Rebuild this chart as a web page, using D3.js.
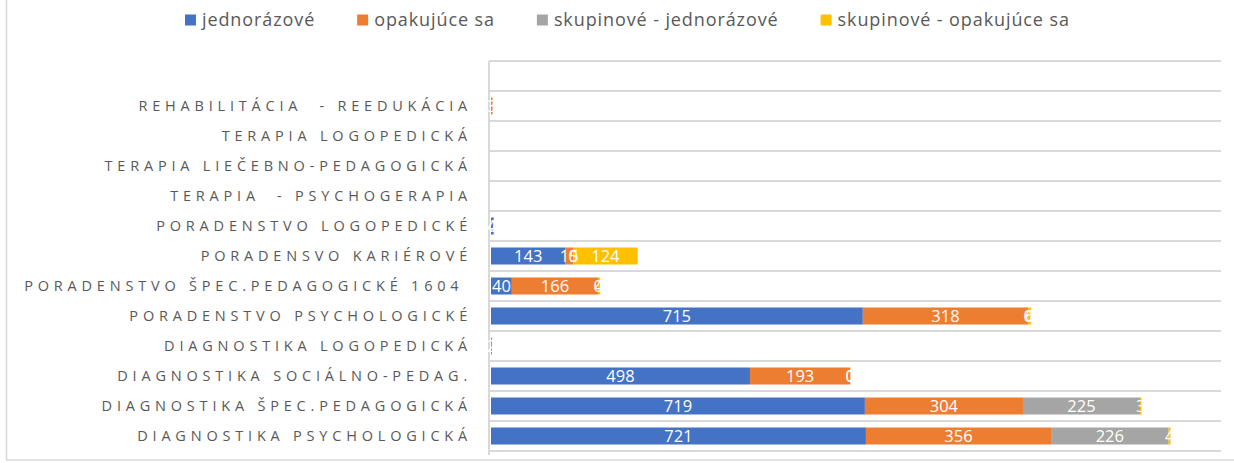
<!DOCTYPE html>
<html>
<head>
<meta charset="utf-8">
<script src="https://cdn.jsdelivr.net/npm/d3@7"></script>
<style>
  body { margin: 0; background: #fff; }
  svg { display: block; }
  .cat { white-space: pre; }
</style>
</head>
<body>
<svg id="chart" width="1234" height="463"></svg>
<script>
// categories from top to bottom (first band is empty in the original)
var categories = [
  "",
  "REHABILITÁCIA  - REEDUKÁCIA",
  "TERAPIA LOGOPEDICKÁ",
  "TERAPIA LIEČEBNO-PEDAGOGICKÁ",
  "TERAPIA  - PSYCHOGERAPIA",
  "PORADENSTVO LOGOPEDICKÉ",
  "PORADENSVO KARIÉROVÉ",
  "PORADENSTVO ŠPEC.PEDAGOGICKÉ 1604 ",
  "PORADENSTVO PSYCHOLOGICKÉ",
  "DIAGNOSTIKA LOGOPEDICKÁ",
  "DIAGNOSTIKA SOCIÁLNO-PEDAG.",
  "DIAGNOSTIKA ŠPEC.PEDAGOGICKÁ",
  "DIAGNOSTIKA PSYCHOLOGICKÁ"
];
var seriesNames = ["jednorázové", "opakujúce sa", "skupinové - jednorázové", "skupinové - opakujúce sa"];
var jednorazove      = [0, 0, 0, 0, 0, 4, 143, 40, 715, 0, 498, 719, 721];
var opakujuce        = [0, 3, 0, 0, 0, 2, 15, 166, 318, 2, 193, 304, 356];
var skupJednorazove  = [0, 0, 0, 0, 0, 0, 0, 0, 0, 0, 0, 225, 226];
var skupOpakujuce    = [0, 0, 0, 0, 0, 0, 124, 4, 6, 0, 0, 3, 4];
var colors = ["#4472C4", "#ED7D31", "#A5A5A5", "#FFC000"];

var svg = d3.select("#chart");
var font = "'Open Sans', 'Liberation Sans', sans-serif";

// chart border
svg.append("rect").attr("x", 6.5).attr("y", -2).attr("width", 1240).attr("height", 462)
  .attr("fill", "none").attr("stroke", "#d9d9d9").attr("stroke-width", 1.5);

var x = d3.scaleLinear().domain([0, 1400]).range([491, 1219]);
var y = d3.scaleBand().domain(d3.range(categories.length)).range([61, 451]).paddingInner(0).paddingOuter(0);

var rows = categories.map(function(c, i) {
  return { cat: c, jed: jednorazove[i], opa: opakujuce[i], sj: skupJednorazove[i], so: skupOpakujuce[i] };
});
var stack = d3.stack().keys(["jed", "opa", "sj", "so"]);
var layers = stack(rows);

// gridlines at band boundaries
var bounds = d3.range(categories.length + 1).map(function(i) { return 61 + i * y.step(); });
svg.append("g").selectAll("line").data(bounds).enter().append("line")
  .attr("x1", 489).attr("x2", 1221)
  .attr("y1", function(d) { return d; }).attr("y2", function(d) { return d; })
  .attr("stroke", "#d9d9d9").attr("stroke-width", 2);

// vertical axis line
svg.append("line").attr("x1", 489).attr("x2", 489).attr("y1", 61).attr("y2", 455)
  .attr("stroke", "#d9d9d9").attr("stroke-width", 2);

var barH = 17;
var g = svg.append("g");
layers.forEach(function(layer, k) {
  g.append("g").attr("fill", colors[k]).selectAll("rect").data(layer).enter().append("rect")
    .attr("x", function(d) { return x(d[0]); })
    .attr("width", function(d) { return x(d[1]) - x(d[0]); })
    .attr("y", function(d, i) { return y(i) + (y.bandwidth() - barH) / 2; })
    .attr("height", barH);
});

// value labels (zero values too, as in the original, only for rows with data)
layers.forEach(function(layer, k) {
  g.append("g").selectAll("text").data(layer).enter()
    .filter(function(d) { return d[1] - d[0] > 0 || (d[0] > 20); })
    .append("text")
    .attr("x", function(d) { return (x(d[0]) + x(d[1])) / 2; })
    .attr("y", function(d) { return y(layer.indexOf(d)) + y.bandwidth() / 2; })
    .attr("dy", "0.36em")
    .attr("text-anchor", "middle")
    .attr("font-family", font)
    .attr("font-size", 16.5)
    .attr("fill", "#fff")
    .text(function(d) { return d[1] - d[0]; });
});

// category labels
svg.append("g").selectAll("text").data(categories).enter().append("text")
  .attr("class", "cat")
  .attr("x", 472)
  .attr("y", function(d, i) { return y(i) + y.bandwidth() / 2; })
  .attr("dy", "0.36em")
  .attr("text-anchor", "end")
  .attr("font-family", font)
  .attr("font-size", 14.5)
  .attr("letter-spacing", 4.8)
  .attr("fill", "#595959")
  .text(function(d) { return d; });

// legend, laid out left to right from measured text widths
var legend = svg.append("g");
var lx = 185;
seriesNames.forEach(function(name, i) {
  var item = legend.append("g").attr("transform", "translate(" + lx + ",20)");
  item.append("rect").attr("x", 0).attr("y", -5.5).attr("width", 11).attr("height", 11)
    .attr("fill", colors[i]);
  var t = item.append("text").attr("x", 17).attr("dy", "0.36em")
    .attr("font-family", font).attr("font-size", 18).attr("letter-spacing", 0.9)
    .attr("fill", "#595959")
    .text(name);
  lx += 17 + t.node().getComputedTextLength() + 42;
});
</script>
</body>
</html>
